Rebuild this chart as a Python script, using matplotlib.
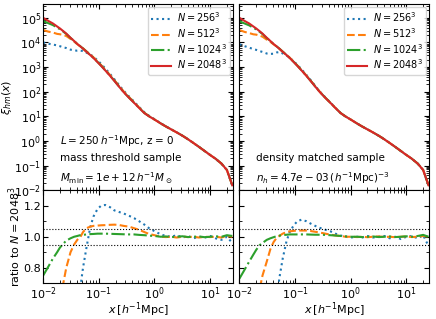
import numpy as np
import matplotlib
matplotlib.use("Agg")
import matplotlib.pyplot as plt
from matplotlib.ticker import MultipleLocator, AutoMinorLocator, LogLocator, NullFormatter

# separation x [h^-1 Mpc]
x = [0.010, 0.0125, 0.015, 0.0178, 0.02, 0.023, 0.026, 0.031, 0.036, 0.041,
     0.046, 0.052, 0.06, 0.07, 0.08, 0.095, 0.11, 0.13, 0.16, 0.19,
     0.23, 0.28, 0.35, 0.43, 0.53, 0.66, 0.8, 1.0, 1.3, 1.6,
     2.0, 2.5, 3.2, 4.0, 5.0, 6.3, 8.0, 10, 12.5, 16,
     20, 25]

# log10 xi_hm for N = 2048^3 (reference run)
log_xi_2048 = [5.00, 4.87, 4.77, 4.65, 4.57, 4.46, 4.36, 4.19, 4.06, 3.94,
               3.85, 3.75, 3.62, 3.49, 3.37, 3.20, 3.05, 2.87, 2.64, 2.44,
               2.21, 1.98, 1.75, 1.55, 1.34, 1.13, 1.00, 0.87, 0.71, 0.59,
               0.47, 0.35, 0.21, 0.07, -0.08, -0.24, -0.41, -0.57, -0.72, -0.92,
               -1.18, -1.80]

# ratios to N = 2048^3, mass threshold sample
ratio_mass = {
    256: [0.10, 0.12, 0.14, 0.17, 0.19, 0.22, 0.26, 0.33, 0.42, 0.53,
          0.66, 0.80, 0.93, 1.06, 1.13, 1.18, 1.20, 1.205, 1.19, 1.17,
          1.16, 1.15, 1.135, 1.12, 1.10, 1.078, 1.055, 1.036, 1.015, 1.005,
          1.00, 1.01, 0.995, 1.005, 0.99, 1.00, 0.995, 1.005, 0.99, 0.98,
          1.00, 0.96],
    512: [0.32, 0.37, 0.43, 0.50, 0.58, 0.70, 0.80, 0.90, 0.95, 0.98,
          0.995, 1.03, 1.055, 1.065, 1.07, 1.072, 1.074, 1.075, 1.077, 1.078,
          1.076, 1.07, 1.065, 1.055, 1.045, 1.03, 1.018, 1.01, 1.00, 0.998,
          1.00, 0.995, 1.00, 0.998, 1.00, 0.995, 1.00, 0.998, 1.00, 0.995,
          1.005, 1.00],
    1024: [0.75, 0.81, 0.86, 0.90, 0.93, 0.955, 0.975, 0.99, 1.00, 1.005,
           1.01, 1.012, 1.015, 1.017, 1.018, 1.02, 1.02, 1.02, 1.019, 1.018,
           1.017, 1.016, 1.015, 1.015, 1.012, 1.01, 1.007, 1.005, 1.00, 1.002,
           0.998, 1.00, 1.003, 0.998, 1.00, 1.002, 0.997, 1.00, 1.003, 1.00,
           1.01, 1.005],
}

# ratios to N = 2048^3, density matched sample
ratio_dens = {
    256: [0.085, 0.095, 0.105, 0.12, 0.135, 0.155, 0.18, 0.23, 0.30, 0.40,
          0.55, 0.73, 0.86, 0.97, 1.03, 1.075, 1.10, 1.11, 1.10, 1.085,
          1.07, 1.057, 1.045, 1.035, 1.02, 1.008, 1.00, 0.995, 1.00, 0.995,
          1.005, 0.995, 1.00, 1.005, 0.99, 1.00, 0.985, 1.00, 1.005, 0.99,
          1.01, 0.94],
    512: [0.32, 0.36, 0.41, 0.48, 0.56, 0.66, 0.75, 0.84, 0.92, 0.965,
          0.99, 1.005, 1.02, 1.03, 1.035, 1.038, 1.04, 1.04, 1.04, 1.037,
          1.032, 1.027, 1.02, 1.014, 1.008, 1.005, 1.00, 1.00, 0.998, 1.00,
          0.997, 1.00, 1.002, 0.998, 1.00, 0.997, 1.00, 1.002, 0.998, 1.00,
          1.005, 1.00],
    1024: [0.73, 0.79, 0.84, 0.885, 0.915, 0.945, 0.96, 0.98, 0.99, 0.997,
           1.003, 1.007, 1.01, 1.013, 1.015, 1.015, 1.015, 1.015, 1.015, 1.014,
           1.013, 1.013, 1.012, 1.01, 1.008, 1.005, 1.003, 1.00, 1.00, 0.998,
           1.00, 1.002, 0.998, 1.00, 1.002, 0.998, 1.00, 1.003, 1.00, 1.005,
           1.012, 1.00],
}

styles = {256: ("C0", ":"), 512: ("C1", "--"), 1024: ("C2", "-."), 2048: ("C3", "-")}

plt.rcParams["font.size"] = 8
plt.rcParams["mathtext.fontset"] = "dejavusans"

fig, axes = plt.subplots(2, 2, figsize=(4.36, 3.19), dpi=100, sharex=True,
                         gridspec_kw={"height_ratios": [2, 1]})
fig.subplots_adjust(left=0.099, right=0.984, top=0.987, bottom=0.112,
                    wspace=0.035, hspace=0.0)

xarr = np.array(x)
xi_ref = 10 ** np.array(log_xi_2048)

for col, ratios in enumerate([ratio_mass, ratio_dens]):
    ax = axes[0, col]
    rax = axes[1, col]
    for n in [256, 512, 1024]:
        c, ls = styles[n]
        r = np.array(ratios[n])
        ax.plot(xarr, xi_ref * r, color=c, ls=ls, lw=1.5, label=r"$N = %d^3$" % n)
        rax.plot(xarr, r, color=c, ls=ls, lw=1.5)
    c, ls = styles[2048]
    ax.plot(xarr, xi_ref, color=c, ls=ls, lw=1.5, label=r"$N = 2048^3$")

    ax.set_xscale("log")
    ax.set_yscale("log")
    ax.set_xlim(0.01, 25.5)
    ax.set_ylim(1e-2, 3.6e5)
    ax.yaxis.set_major_locator(LogLocator(base=10, numticks=20))
    ax.yaxis.set_minor_locator(LogLocator(base=10, subs=np.arange(2, 10), numticks=20))
    ax.yaxis.set_minor_formatter(NullFormatter())
    ax.legend(loc="upper right", fontsize=7, handlelength=2.0, labelspacing=0.2,
              borderpad=0.35, handletextpad=0.6, borderaxespad=0.3)

    rax.axhline(1.05, color="k", ls=":", lw=0.8)
    rax.axhline(0.95, color="k", ls=":", lw=0.8)
    rax.set_ylim(0.7, 1.3)
    rax.yaxis.set_major_locator(MultipleLocator(0.2))
    rax.yaxis.set_minor_locator(AutoMinorLocator(2))
    rax.set_xlabel(r"$x\,[h^{-1}\mathrm{Mpc}]$", labelpad=-1)

    for a in (ax, rax):
        a.tick_params(which="both", direction="in", top=True, right=True, pad=1.5)
        a.tick_params(which="major", length=3.5)
        a.tick_params(which="minor", length=2)
    if col == 1:
        ax.tick_params(labelleft=False)
        rax.tick_params(labelleft=False)

axes[0, 0].set_ylabel(r"$\xi_{hm}(x)$", labelpad=0)
axes[1, 0].set_ylabel(r"ratio to $N = 2048^3$", labelpad=0)

axes[0, 0].text(0.09, 0.025,
                "$L = 250\\,h^{-1}$Mpc, z = 0\nmass threshold sample\n"
                "$M_{\\rm min} = 1e+12\\,h^{-1}M_\\odot$",
                transform=axes[0, 0].transAxes, ha="left", va="bottom",
                linespacing=1.55, fontsize=7.5)
axes[0, 1].text(0.09, 0.025,
                "density matched sample\n"
                "$n_h = 4.7e-03\\,(h^{-1}\\mathrm{Mpc})^{-3}$",
                transform=axes[0, 1].transAxes, ha="left", va="bottom",
                linespacing=1.55, fontsize=7.5)

fig.savefig("out.png", dpi=100)
